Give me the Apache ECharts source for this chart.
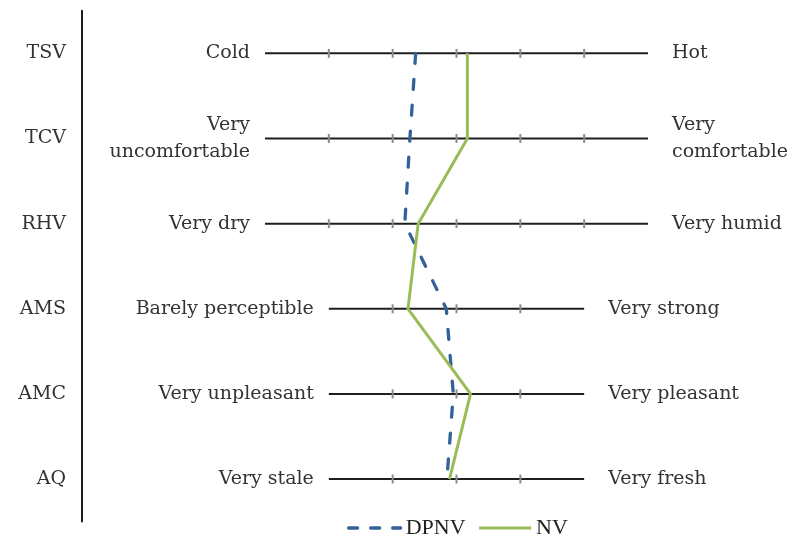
<!DOCTYPE html>
<html>
<head>
<meta charset="utf-8">
<script src="https://cdn.jsdelivr.net/npm/echarts@6/dist/echarts.min.js"></script>
<style>
  html, body { margin: 0; padding: 0; background: #fff; }
  #chart { width: 788px; height: 540px; }
</style>
</head>
<body>
<div id="chart"></div>
<script>
// Rating scales, top to bottom
const rowNames = ['TSV', 'TCV', 'RHV', 'AMS', 'AMC', 'AQ'];
const scaleMin = [-3, -3, -3, -2, -2, -2];
const scaleMax = [3, 3, 3, 2, 2, 2];
const leftLabels = ['Cold', 'Very\nuncomfortable', 'Very dry', 'Barely perceptible', 'Very unpleasant', 'Very stale'];
const rightLabels = ['Hot', 'Very\ncomfortable', 'Very humid', 'Very strong', 'Very pleasant', 'Very fresh'];

// Mean votes per scale
const dpnvValues = [-0.64, -0.73, -0.81, -0.16, -0.05, -0.15];
const nvValues = [0.17, 0.17, -0.60, -0.76, 0.22, -0.11];

const FONT_FAMILY = '"DejaVu Serif", serif';
const FONT_SIZE = 19;
const TEXT_COLOR = '#333';
const BLUE = '#33629b';
const GREEN = '#9bbb59';

const chart = echarts.init(document.getElementById('chart'), null, { renderer: 'canvas' });

// One item per scale: [row index, min, max]
const scaleData = rowNames.map((name, i) => [i, scaleMin[i], scaleMax[i]]);

function renderScale(params, api) {
  const row = api.value(0);
  const lo = api.value(1);
  const hi = api.value(2);
  const i = params.dataIndex;
  const p1 = api.coord([lo, row]);
  const p2 = api.coord([hi, row]);
  const children = [{
    type: 'line',
    shape: { x1: p1[0], y1: p1[1], x2: p2[0], y2: p2[1] },
    style: { stroke: '#1e1e1e', lineWidth: 2 }
  }];
  for (let v = lo + 1; v < hi; v++) {
    const p = api.coord([v, row]);
    children.push({
      type: 'rect',
      shape: { x: p[0] - 1, y: p[1] - 4.5, width: 2, height: 9 },
      style: { fill: '#8c8c8c' }
    });
  }
  const font = FONT_SIZE + 'px ' + FONT_FAMILY;
  children.push({
    type: 'text',
    x: p1[0] - 15, y: p1[1],
    style: {
      text: leftLabels[i], font: font, fill: TEXT_COLOR,
      align: 'right', verticalAlign: 'middle', lineHeight: 27
    }
  });
  children.push({
    type: 'text',
    x: p2[0] + 24, y: p2[1],
    style: {
      text: rightLabels[i], font: font, fill: TEXT_COLOR,
      align: 'left', verticalAlign: 'middle', lineHeight: 27
    }
  });
  return { type: 'group', children: children };
}

const option = {
  animation: false,
  backgroundColor: '#fff',
  grid: { left: 265, right: 140, top: 10.8, bottom: 18.4, containLabel: false },
  xAxis: {
    type: 'value', min: -3, max: 3, interval: 1,
    show: false
  },
  yAxis: {
    type: 'category',
    data: rowNames,
    inverse: true,
    offset: 183,
    axisLine: { show: true, onZero: false, lineStyle: { color: '#1e1e1e', width: 2 } },
    axisTick: { show: false },
    splitLine: { show: false },
    axisLabel: {
      margin: 16, color: TEXT_COLOR,
      fontFamily: FONT_FAMILY, fontSize: FONT_SIZE
    }
  },
  legend: {
    left: 342, top: 512,
    itemWidth: 52, itemHeight: 14, itemGap: 12,
    itemStyle: { opacity: 0 },
    textStyle: { fontFamily: '"Liberation Serif", serif', fontSize: 22, color: '#222' },
    data: [
      { name: 'DPNV', lineStyle: { color: BLUE, width: 3.3, type: [9, 13], cap: 'round' } },
      { name: 'NV', lineStyle: { color: GREEN, width: 3 } }
    ]
  },
  series: [
    {
      type: 'custom',
      name: 'scales',
      data: scaleData,
      encode: { y: 0, x: [1, 2] },
      renderItem: renderScale,
      silent: true,
      z: 1
    },
    {
      type: 'line',
      name: 'DPNV',
      data: dpnvValues.map((v, i) => [v, rowNames[i]]),
      symbol: 'none',
      color: BLUE,
      lineStyle: { color: BLUE, width: 3.3, type: [10, 16], cap: 'round' },
      z: 3
    },
    {
      type: 'line',
      name: 'NV',
      data: nvValues.map((v, i) => [v, rowNames[i]]),
      symbol: 'none',
      color: GREEN,
      lineStyle: { color: GREEN, width: 3 },
      z: 4
    }
  ]
};

chart.setOption(option);
</script>
</body>
</html>
